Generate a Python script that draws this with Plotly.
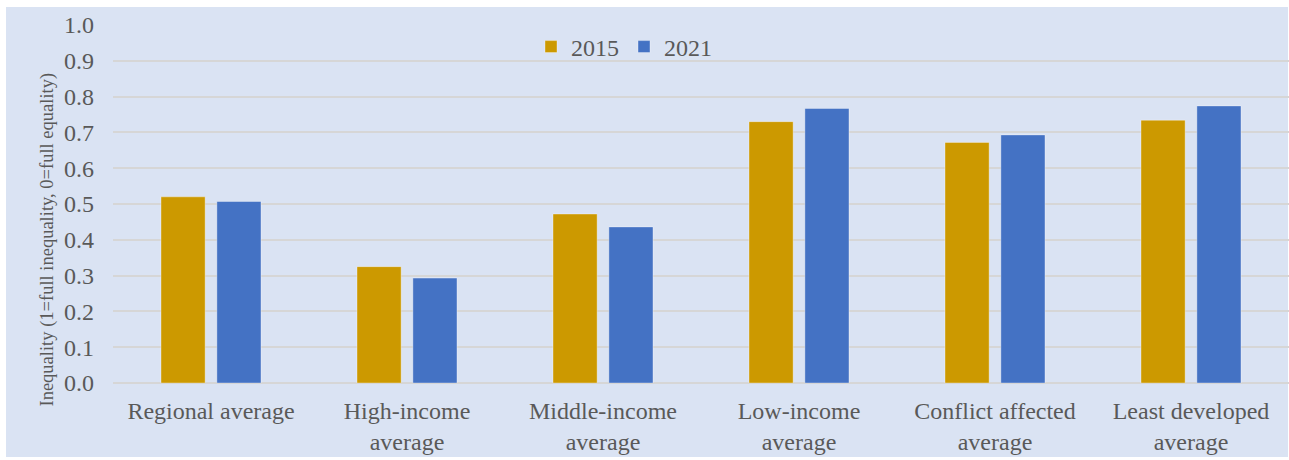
import plotly.graph_objects as go

categories = ["Regional average", "High-income<br>average", "Middle-income<br>average",
              "Low-income<br>average", "Conflict affected<br>average", "Least developed<br>average"]
values_2015 = [0.520, 0.325, 0.472, 0.730, 0.672, 0.734]
values_2021 = [0.507, 0.293, 0.436, 0.767, 0.693, 0.774]
y_ticks = [round(i * 0.1, 1) for i in range(11)]

W, H = 1289, 460
L, R, T, B = 113, 0, 25, 77
pw = W - L - R
ph = H - T - B

def px_x(p):
    return (p - L) / pw

def px_y(p):
    return (H - B - p) / ph

BG = "#DAE3F3"
TXT = "#595959"
FONT = "Liberation Serif"

fig = go.Figure()
fig.add_trace(go.Bar(name="2015", x=categories, y=values_2015,
                     marker=dict(color="#CC9900", line=dict(color="rgba(255,255,255,0.35)", width=1))))
fig.add_trace(go.Bar(name="2021", x=categories, y=values_2021,
                     marker=dict(color="#4472C4", line=dict(color="rgba(255,255,255,0.35)", width=1))))

fig.add_shape(type="rect", xref="paper", yref="paper",
              x0=px_x(6), x1=px_x(1288), y0=px_y(457), y1=px_y(7),
              fillcolor=BG, line=dict(width=0), layer="below")

fig.add_annotation(text="Inequality (1=full inequality, 0=full equality)",
                   xref="paper", yref="paper", x=px_x(34), y=px_y(240),
                   textangle=-90, showarrow=False,
                   font=dict(family=FONT, size=18.5, color=TXT))

fig.update_layout(
    width=W, height=H,
    margin=dict(l=L, r=R, t=T, b=B, pad=0),
    paper_bgcolor="white",
    plot_bgcolor="rgba(0,0,0,0)",
    barmode="group",
    bargap=0.43,
    bargroupgap=0.21,
    font=dict(family=FONT, size=24, color=TXT),
    showlegend=True,
    legend=dict(orientation="h", x=px_x(531), xanchor="left", y=px_y(47), yanchor="middle",
                bgcolor="rgba(0,0,0,0)", font=dict(family=FONT, size=24, color=TXT),
                itemwidth=30, traceorder="normal"),
)
fig.update_yaxes(range=[0, 1], tickvals=y_ticks, tickformat=".1f",
                 showgrid=True, gridcolor="#D6D6D6", gridwidth=2,
                 zeroline=True, zerolinecolor="#D6D6D6", zerolinewidth=2,
                 showline=False, ticks="", ticklabelstandoff=18,
                 tickfont=dict(family=FONT, size=24, color=TXT))
fig.update_xaxes(showgrid=False, showline=False, ticks="", ticklabelstandoff=11,
                 tickfont=dict(family=FONT, size=24, color=TXT))

fig.write_html("out.html", config={"displayModeBar": False},
               post_script="document.body.style.margin='0';document.body.style.overflow='hidden';")
